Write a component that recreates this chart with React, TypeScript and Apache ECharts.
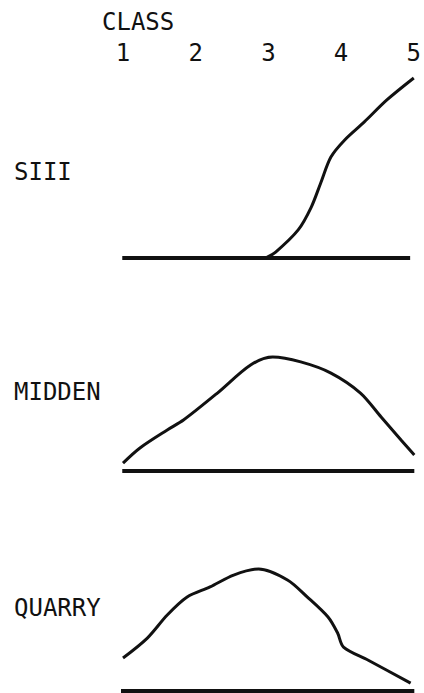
import React, { useEffect, useRef } from "react";
import * as echarts from "echarts";

const classTicks = ["1", "2", "3", "4", "5"];
const panelNames = ["SIII", "MIDDEN", "QUARRY"];

// [class, relative frequency]
const siii: number[][] = [
  [2.96, 0], [3.1, 3.3], [3.41, 15.6], [3.59, 28.3], [3.72, 41.7], [3.86, 56.1],
  [4.05, 65.6], [4.32, 75.6], [4.63, 87.8], [5.0, 100],
];
const midden: number[][] = [
  [1.0, 4.4], [1.23, 12.8], [1.6, 22.8], [1.82, 28.3], [2.28, 43.3], [2.73, 58.9],
  [3.03, 63.3], [3.41, 60.6], [3.82, 54.4], [4.22, 43.3], [4.5, 30], [4.77, 17.2], [4.95, 8.9],
];
const quarry: number[][] = [
  [1.0, 18.3], [1.33, 29.4], [1.6, 42.2], [1.87, 52.2], [2.18, 57.8], [2.5, 64.4],
  [2.84, 67.8], [3.23, 61.7], [3.5, 52.2], [3.78, 41.1], [3.91, 32.2], [3.99, 24.4],
  [4.32, 17.2], [4.9, 4.4],
];
const baselineStart = [0.99, 0.99, 0.92];
const baselineEnd = [4.95, 4.95, 4.95];

const curves = [siii, midden, quarry];

export default function App() {
  const ref = useRef<HTMLDivElement>(null);
  useEffect(() => {
    if (!ref.current) return;
    const chart = echarts.init(ref.current, null, { renderer: "svg" });
    const font = "DejaVu Sans Mono";
    const gridTops = [78, 291, 511];
    const grids = gridTops.map((t) => ({ left: 123, width: 295, top: t, height: 180 }));
    const xAxes = grids.map((_, i) => ({
      type: "value",
      gridIndex: i,
      min: 1,
      max: 5,
      interval: 1,
      position: "top",
      show: i === 0,
      axisLine: { show: false },
      axisTick: { show: false },
      splitLine: { show: false },
      axisLabel: {
        show: i === 0,
        margin: 13,
        fontFamily: font,
        fontSize: 24,
        color: "#111",
        formatter: (v: number) => classTicks[Math.round(v) - 1] ?? "",
      },
    }));
    const yAxes = grids.map((_, i) => ({
      type: "value",
      gridIndex: i,
      min: 0,
      max: 100,
      show: false,
    }));
    const series: any[] = [];
    curves.forEach((c, i) => {
      series.push({
        type: "line",
        xAxisIndex: i,
        yAxisIndex: i,
        data: [[baselineStart[i], 0], [baselineEnd[i], 0]],
        symbol: "none",
        clip: false,
        lineStyle: { color: "#111", width: 4 },
      });
      series.push({
        type: "line",
        xAxisIndex: i,
        yAxisIndex: i,
        data: c,
        symbol: "none",
        smooth: 0.3,
        clip: false,
        lineStyle: { color: "#111", width: 3 },
      });
    });
    const labelY = [174, 394, 610];
    chart.setOption({
      animation: false,
      backgroundColor: "#fff",
      title: {
        text: "CLASS",
        left: 97,
        top: 5,
        textStyle: { fontFamily: font, fontSize: 24, fontWeight: "normal", color: "#111" },
      },
      grid: grids,
      xAxis: xAxes,
      yAxis: yAxes,
      series,
      graphic: panelNames.map((n, i) => ({
        type: "text",
        left: 14,
        top: labelY[i] - 14,
        style: { text: n, fontFamily: font, fontSize: 24, fill: "#111" },
      })),
    });
    return () => chart.dispose();
  }, []);
  return (
    <div
      ref={ref}
      style={{ position: "fixed", left: 0, top: 0, width: 424, height: 693 }}
    />
  );
}
